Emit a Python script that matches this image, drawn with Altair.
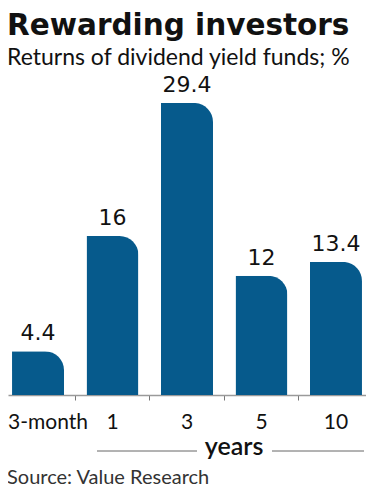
import altair as alt
import pandas as pd

periods = ["3-month", "1", "3", "5", "10"]
returns = [4.4, 16, 29.4, 12, 13.4]

title_text = "Rewarding investors"
subtitle_text = "Returns of dividend yield funds; %"
source_text = "Source: Value Research"
group_text = "years"

df = pd.DataFrame({"period": periods, "ret": returns})

FONT = "Lato"
WIDE = "DejaVu Sans"
BAR = "#065a8c"
INK = "#111111"

x_enc = alt.X(
    "period:N",
    sort=periods,
    scale=alt.Scale(paddingInner=0.302, paddingOuter=0.054),
    axis=alt.Axis(
        title=None,
        labelAngle=0,
        labelFont=FONT,
        labelFontSize=21,
        labelColor=INK,
        labelBaseline="alphabetic",
        labelPadding=28,
        labelOffset={"condition": {"test": "datum.value == '3-month'", "value": 10}, "value": 0},
        domainColor="#9a9a9a",
        domainWidth=1.5,
        tickColor="#777777",
        tickSize=5,
        tickWidth=1,
        bandPosition=-0.216,
    ),
)
y_enc = alt.Y("ret:Q", scale=alt.Scale(domain=[0, 30]), axis=None)

bars = alt.Chart(df).mark_bar(color=BAR, cornerRadiusTopRight=19).encode(x=x_enc, y=y_enc)

labels = alt.Chart(df).mark_text(
    font=WIDE, fontSize=22, color=INK, baseline="alphabetic", dy=-11
).encode(x=alt.X("period:N", sort=periods), y="ret:Q", text=alt.Text("ret:Q", format=".1~f"))


def note(text, **kw):
    return alt.Chart(pd.DataFrame({"t": [text]})).mark_text(**kw)


title = note(
    title_text, font=WIDE, fontSize=29.5, fontWeight="bold", color=INK, align="left", baseline="alphabetic"
).encode(x=alt.value(-1), y=alt.value(-62), text="t:N")

subtitle = note(
    subtitle_text, font=FONT, fontSize=23, color=INK, align="left", baseline="alphabetic"
).encode(x=alt.value(-1), y=alt.value(-32), text="t:N")

src = note(
    source_text, font=FONT, fontSize=20, color="#333333", align="left", baseline="alphabetic"
).encode(x=alt.value(-1), y=alt.value(387), text="t:N")

years = note(
    group_text, font=FONT, fontSize=25, fontWeight=600, color=INK, align="center", baseline="middle"
).encode(x=alt.value(226), y=alt.value(350), text="t:N")

rule_l = alt.Chart(pd.DataFrame({"t": [group_text]})).mark_rule(color="#666666", strokeWidth=1).encode(
    x=alt.value(89), x2=alt.value(189), y=alt.value(354)
)
rule_r = alt.Chart(pd.DataFrame({"t": [group_text]})).mark_rule(color="#666666", strokeWidth=1).encode(
    x=alt.value(264), x2=alt.value(356), y=alt.value(354)
)

chart = (
    alt.layer(bars, labels, title, subtitle, src, years, rule_l, rule_r)
    .properties(
        width=358,
        height=298,
        autosize=alt.AutoSizeParams(type="none"),
        padding={"left": 0, "right": 0, "top": 89, "bottom": 94},
    )
    .configure(background="white")
    .configure_view(stroke=None, strokeWidth=0)
)

chart.save("out.html", embed_options={"renderer": "svg", "actions": False})
